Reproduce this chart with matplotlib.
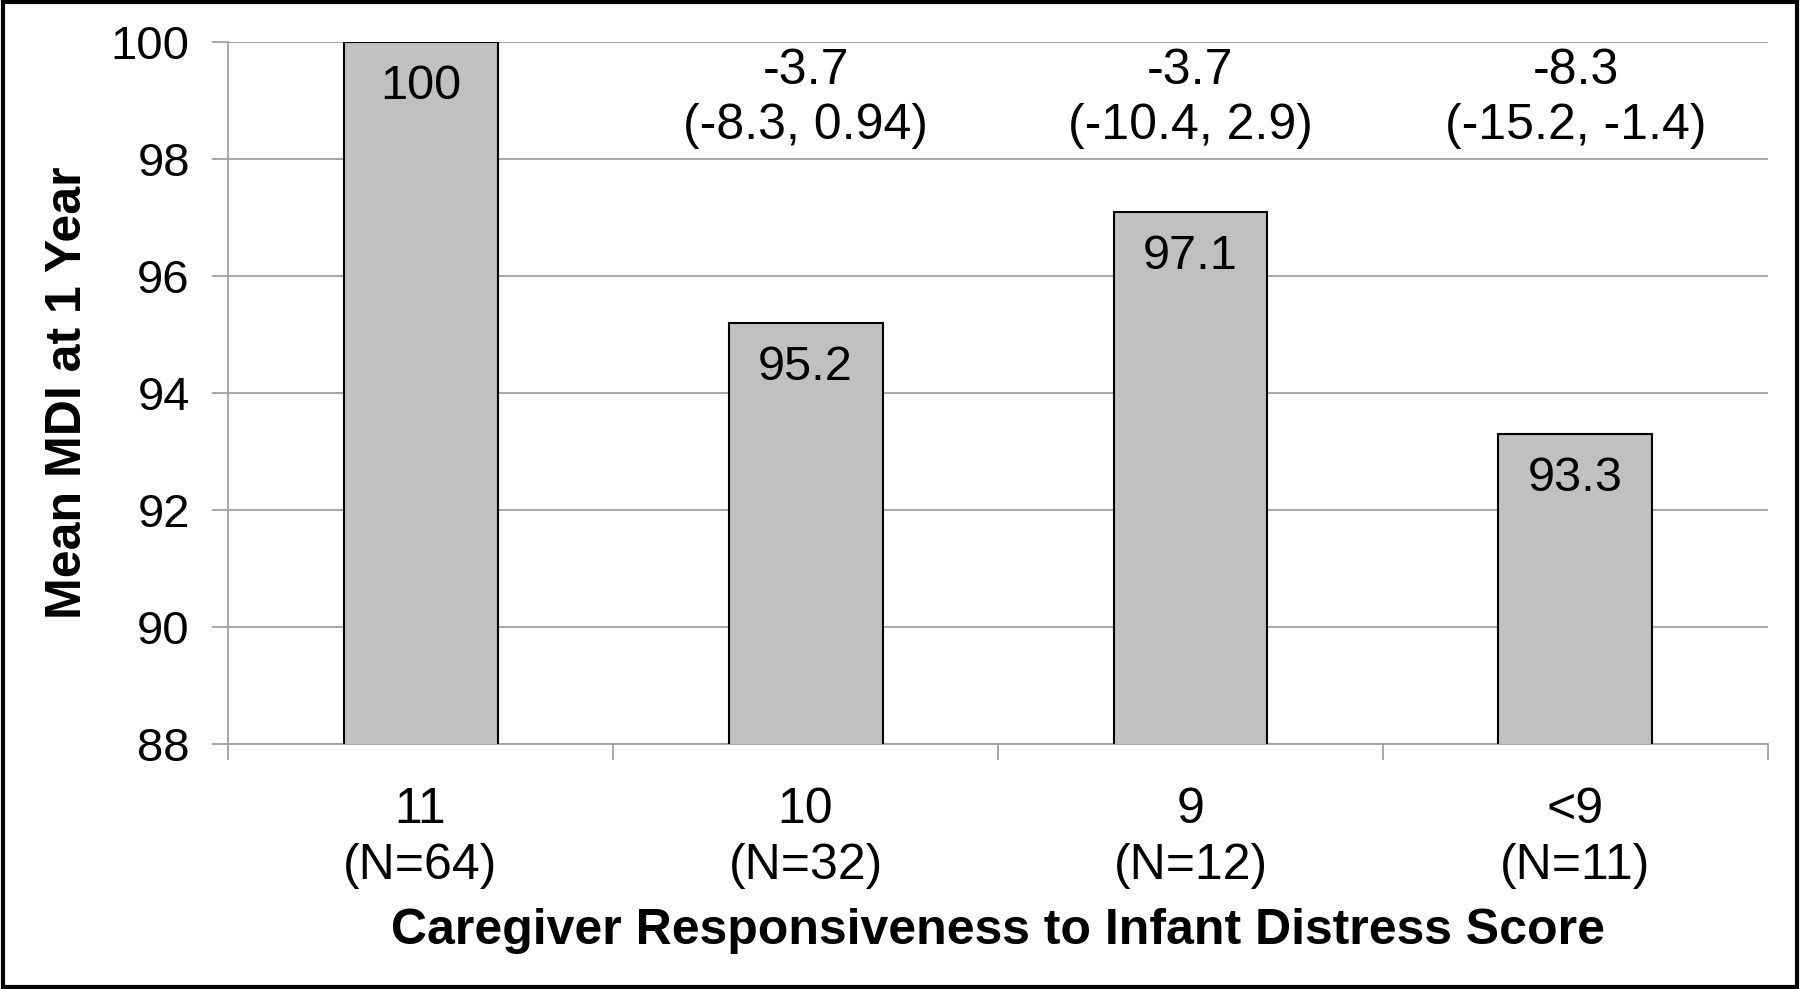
import numpy as np
import matplotlib
matplotlib.use("Agg")
import matplotlib.pyplot as plt
from matplotlib.patches import Rectangle

plt.rcParams['font.family'] = ['Liberation Sans', 'DejaVu Sans']

# data
categories = ['11\n(N=64)', '10\n(N=32)', '9\n(N=12)', '<9\n(N=11)']
means = [100, 95.2, 97.1, 93.3]
diffs = [None, '-3.7\n(-8.3, 0.94)', '-3.7\n(-10.4, 2.9)', '-8.3\n(-15.2, -1.4)']

fig = plt.figure(figsize=(18, 9.89), dpi=100)
ax = fig.add_axes([0.1267, 0.2477, 0.8555, 0.7098])

x = np.arange(len(categories))
ax.bar(x, means, width=0.4, color='#c0c0c0', edgecolor='black', linewidth=1.5, zorder=3)

ax.set_ylim(88, 100)
ax.set_xlim(-0.5, len(categories) - 0.5)
ax.set_yticks(np.arange(88, 101, 2))
ax.yaxis.grid(True, color='#a0a0a0', linewidth=1.3, zorder=0)

# value labels inside top of bars
for xi, m in zip(x, means):
    ax.annotate('%g' % m, (xi, m), xytext=(0, -32), textcoords='offset points',
                ha='center', va='center', fontsize=35, zorder=4)

# difference + CI above bars
for xi, d in zip(x, diffs):
    if d:
        ax.text(xi, 99.03, d, ha='center', va='center', fontsize=36,
                linespacing=1.25, zorder=4)

# category labels at centres, tick marks at boundaries
ax.set_xticks(x)
ax.set_xticklabels(categories, fontsize=36, linespacing=1.27)
ax.tick_params(axis='x', which='major', length=0, pad=31)
ax.set_xticks(np.arange(-0.5, len(categories)), minor=True)
ax.tick_params(axis='x', which='minor', length=11.5, width=1.3, color='#a0a0a0')
ax.tick_params(axis='y', labelsize=34, length=11.5, width=1.3, color='#a0a0a0', pad=16)

for s in ['top', 'right']:
    ax.spines[s].set_visible(False)
for s in ['left', 'bottom']:
    ax.spines[s].set_color('#a0a0a0')
    ax.spines[s].set_linewidth(1.3)

ax.set_xlabel('Caregiver Responsiveness to Infant Distress Score', fontsize=36,
              fontweight='bold', labelpad=14)
ax.set_ylabel('Mean MDI at 1 Year', fontsize=36, fontweight='bold', labelpad=14)

# outer frame
fig.patches.append(Rectangle((0.0015, 0.0025), 0.997, 0.995, transform=fig.transFigure,
                             fill=False, edgecolor='black', linewidth=3))

fig.savefig('out.png', dpi=100)
